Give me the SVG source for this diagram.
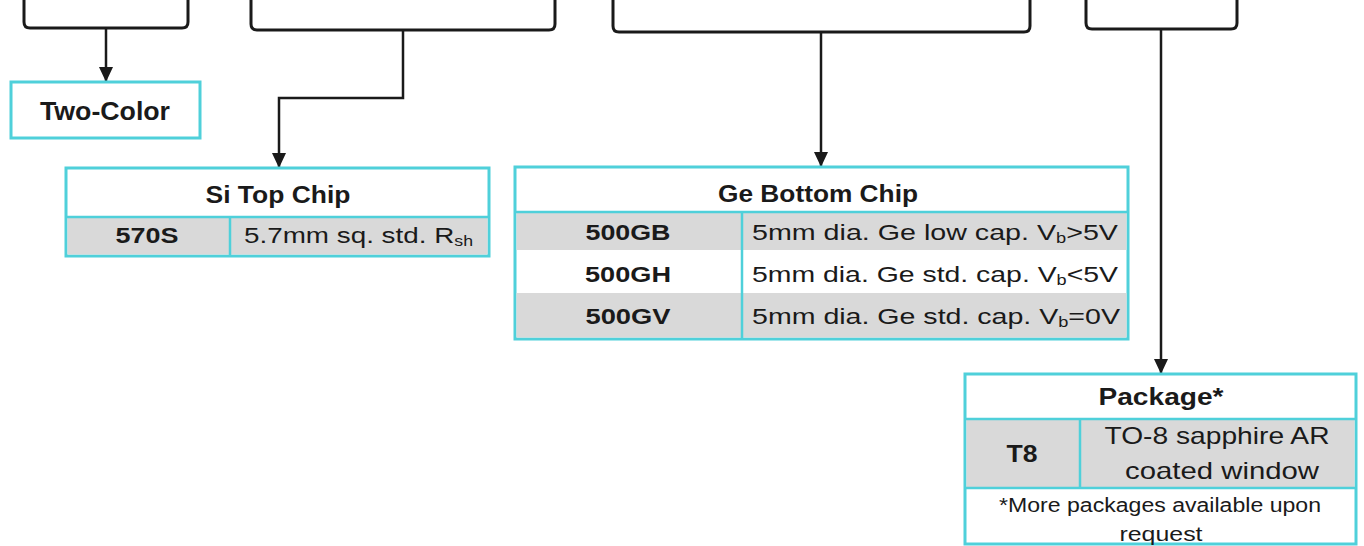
<svg xmlns="http://www.w3.org/2000/svg" width="1364" height="546" viewBox="0 0 1364 546">
<style>
.br{fill:none;stroke:#1a1a1a;stroke-width:3}
.cn{fill:none;stroke:#1a1a1a;stroke-width:2.5}
.bx{fill:#fff;stroke:#4fd0da;stroke-width:3}
.gr{fill:#d9d9d9}
.ln{stroke:#4fd0da;stroke-width:2.5}
.t{font-family:"Liberation Sans",Arial,sans-serif;fill:#1a1a1a;font-size:22px}
.h{font-size:24px}
.b{font-weight:bold;text-anchor:middle}
.m{text-anchor:middle}
.s{font-size:14px}
</style>
<defs>
<marker id="ah" markerUnits="userSpaceOnUse" markerWidth="16" markerHeight="16" refX="15" refY="7" orient="auto">
<path d="M0,0 L15,7 L0,14 z" fill="#1a1a1a"/>
</marker>
</defs>
<g id="brackets">
<path class="br" d="M24,0 V22 Q24,28 30,28 H182 Q188,28 188,22 V0"/>
<path class="br" d="M251,0 V24 Q251,30 257,30 H549 Q555,30 555,24 V0"/>
<path class="br" d="M613,0 V26 Q613,32 619,32 H1024 Q1030,32 1030,26 V0"/>
<path class="br" d="M1086,0 V23 Q1086,29 1092,29 H1231 Q1237,29 1237,23 V0"/>
</g>
<g id="connectors">
<path class="cn" d="M106,28 V82" marker-end="url(#ah)"/>
<path class="cn" d="M403,30 V98 H279 V168" marker-end="url(#ah)"/>
<path class="cn" d="M821,32 V167" marker-end="url(#ah)"/>
<path class="cn" d="M1161,29 V374" marker-end="url(#ah)"/>
</g>
<g id="two-color">
<rect class="bx" x="11" y="82" width="189" height="56"/>
<text class="t b" x="105" y="120" style="font-size:25px" textLength="130" lengthAdjust="spacingAndGlyphs">Two-Color</text>
</g>
<g id="si-top-chip">
<rect class="bx" x="66" y="168" width="423" height="88"/>
<rect class="gr" x="67.5" y="217" width="420" height="37.5"/>
<line class="ln" x1="66" y1="217" x2="489" y2="217"/>
<line class="ln" x1="230" y1="217" x2="230" y2="256"/>
<text class="t b h" x="278" y="203" textLength="145" lengthAdjust="spacingAndGlyphs">Si Top Chip</text>
<text class="t b" x="147" y="243" textLength="63" lengthAdjust="spacingAndGlyphs">570S</text>
<text class="t" x="244" y="243" textLength="229" lengthAdjust="spacingAndGlyphs">5.7mm sq. std. R<tspan class="s" dy="3">sh</tspan></text>
</g>
<g id="ge-bottom-chip">
<rect class="bx" x="515" y="167" width="613" height="172"/>
<rect class="gr" x="516.5" y="212" width="610" height="38"/>
<rect class="gr" x="516.5" y="293" width="610" height="44.5"/>
<line class="ln" x1="515" y1="212" x2="1128" y2="212"/>
<line class="ln" x1="742" y1="212" x2="742" y2="339"/>
<text class="t b h" x="818" y="202" textLength="200" lengthAdjust="spacingAndGlyphs">Ge Bottom Chip</text>
<text class="t b" x="628" y="240" textLength="85" lengthAdjust="spacingAndGlyphs">500GB</text>
<text class="t b" x="628" y="282" textLength="86" lengthAdjust="spacingAndGlyphs">500GH</text>
<text class="t b" x="628" y="324" textLength="85" lengthAdjust="spacingAndGlyphs">500GV</text>
<text class="t" x="752" y="240" textLength="366" lengthAdjust="spacingAndGlyphs">5mm dia. Ge low cap. V<tspan class="s" dy="3">b</tspan><tspan dy="-3">&gt;5V</tspan></text>
<text class="t" x="752" y="282" textLength="366" lengthAdjust="spacingAndGlyphs">5mm dia. Ge std. cap. V<tspan class="s" dy="3">b</tspan><tspan dy="-3">&lt;5V</tspan></text>
<text class="t" x="752" y="324" textLength="368" lengthAdjust="spacingAndGlyphs">5mm dia. Ge std. cap. V<tspan class="s" dy="3">b</tspan><tspan dy="-3">=0V</tspan></text>
</g>
<g id="package">
<rect class="bx" x="965" y="374" width="391" height="170"/>
<rect class="gr" x="966.5" y="419" width="388" height="69"/>
<line class="ln" x1="965" y1="419" x2="1356" y2="419"/>
<line class="ln" x1="965" y1="488" x2="1356" y2="488"/>
<line class="ln" x1="1080" y1="419" x2="1080" y2="488"/>
<text class="t b h" x="1161" y="405" textLength="125" lengthAdjust="spacingAndGlyphs">Package*</text>
<text class="t b" x="1022" y="462" style="font-size:23px" textLength="31" lengthAdjust="spacingAndGlyphs">T8</text>
<text class="t m h" x="1217" y="444" textLength="225" lengthAdjust="spacingAndGlyphs">TO-8 sapphire AR</text>
<text class="t m h" x="1222" y="479" textLength="194" lengthAdjust="spacingAndGlyphs">coated window</text>
<text class="t m" x="1160" y="512" style="font-size:20px" textLength="322" lengthAdjust="spacingAndGlyphs">*More packages available upon</text>
<text class="t m" x="1161" y="541" style="font-size:20px" textLength="83" lengthAdjust="spacingAndGlyphs">request</text>
</g>
</svg>
